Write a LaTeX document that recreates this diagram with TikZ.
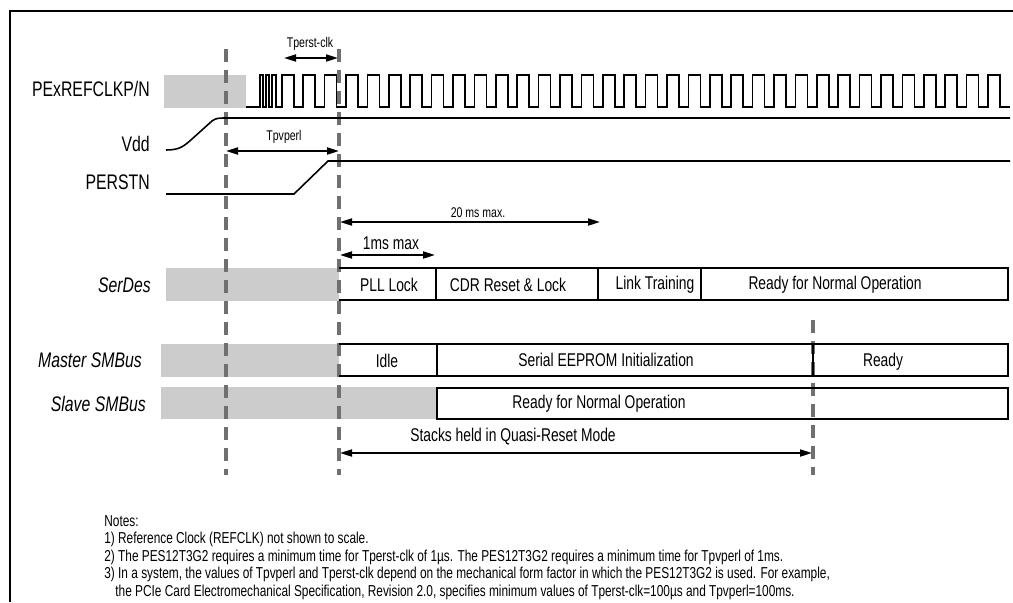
\documentclass[tikz,border=0pt]{standalone}
\usepackage{fontspec}
\setmainfont[FakeStretch=0.75]{Liberation Sans}
\usetikzlibrary{arrows.meta, calc}
\definecolor{shade}{RGB}{204,204,204}
\definecolor{marker}{RGB}{112,112,112}

\begin{document}
\begin{tikzpicture}[
    x=0.02cm, y=-0.02cm,
    wave/.style={line width=0.9pt, line join=miter},
    frame/.style={line width=1.2pt},
    marker/.style={draw=marker, line width=2.2pt, dash pattern=on 0.26cm off 0.16cm},
    hold/.style={fill=shade},
    stage/.style={line width=1.1pt},
    span/.style={{Triangle[length=2.4mm, width=1.4mm]}-{Triangle[length=2.4mm, width=1.4mm]}, line width=1.1pt},
    signame/.style={anchor=east, font=\fontsize{12}{14}\selectfont},
    lanename/.style={anchor=east, font=\fontsize{12}{14}\selectfont\itshape},
    statetext/.style={font=\fontsize{10.5}{12}\selectfont},
    timetext/.style={font=\fontsize{8}{10}\selectfont}
]
\useasboundingbox (0,0) rectangle (1013,602);

% Frame
\draw[frame] (1013,11) -- (10,11) -- (10,602);

% === Undefined states ===
\fill[hold] (164,75) rectangle (246,108);
\fill[hold] (166,268) rectangle (339,301);
\fill[hold] (161,344) rectangle (339,377);
\fill[hold] (161,387) rectangle (437,419);

% === Time markers ===
\coordinate (vddok) at (226,49);
\coordinate (rstrel) at (339,49);
\coordinate (eedone) at (813,320);
\draw[marker] (vddok) -- ++(0,426);
\draw[marker] (rstrel) -- ++(0,426);
\draw[marker] (eedone) -- ++(0,155);

% === Waveforms ===
% Reference clock
\draw[wave] (246,107) -- (260,107) -- (260,75) -- (263,75) -- (263,107) -- (266,107)
    -- (266,75) -- (269,75) -- (269,107) -- (272,107) -- (272,75) -- (276,75) -- (276,107)
    \foreach \k in {0,...,33}{ -- ({281.8+21.4*\k},107) -- ++(0,-32) -- ++(12,0) -- ++(0,32) }
    -- (1010,107);
% Vdd
\draw[wave] (166,150) .. controls (180,150) and (184,146) .. (192,139) -- (212,121)
    .. controls (216,118) and (219,118) .. (226,118) -- (1010,118);
% PERSTN
\draw[wave] (166,194) -- (294,194) -- (328,161) -- (1010,161);

\node[signame] (clkname) at (156,89) {PExREFCLKP/N};
\node[signame] (vddname) at (156,144) {Vdd};
\node[signame] (rstname) at (156,182) {PERSTN};

% === Timing spans ===
\coordinate (tpc-l) at (284,58);
\coordinate (tpc-r) at (338,58);
\draw[span] (tpc-l) -- (tpc-r);
\node[timetext] (tpclabel) at (310,44) {Tperst-clk};

\coordinate (tpv-l) at (226,151);
\coordinate (tpv-r) at (339,151);
\draw[span] (tpv-l) -- (tpv-r);
\node[timetext] (tpvlabel) at (284,137) {Tpvperl};

\coordinate (max20-l) at (340,222);
\coordinate (max20-r) at (600,222);
\draw[span] (max20-l) -- (max20-r);
\node[timetext] (max20label) at (478,213) {20 ms max.};

\coordinate (max1-l) at (340,255);
\coordinate (max1-r) at (435,255);
\draw[span] (max1-l) -- (max1-r);
\node[statetext] (max1label) at (391,243) {1ms max};

% === SerDes ===
\draw[stage] (339,268) -- (1008,268) -- (1008,300) -- (339,300);
\foreach \x in {436,598,701} \draw[stage] (\x,268) -- (\x,300);
\node[lanename] (serdesname) at (157,285) {SerDes};
\node[statetext] (pll) at (389,285) {PLL Lock};
\node[statetext] (cdr) at (508,285) {CDR Reset \& Lock};
\node[statetext] (link) at (655,285) {Link Training};
\node[statetext] (sdready) at (835,285) {Ready for Normal Operation};

% === Master SMBus ===
\draw[stage] (339,344) -- (1008,344) -- (1008,376) -- (339,376);
\foreach \x in {437,813} \draw[stage] (\x,344) -- (\x,376);
\node[lanename] (mastername) at (148,360) {Master SMBus};
\node[statetext] (idle) at (387,361) {Idle};
\node[statetext] (eeprom) at (606,360) {Serial EEPROM Initialization};
\node[statetext] (mready) at (883,362) {Ready};

% === Slave SMBus ===
\draw[stage] (437,388) rectangle (1008,419);
\node[lanename] (slavename) at (152,404) {Slave SMBus};
\node[statetext] (sready) at (599,404) {Ready for Normal Operation};

% Quasi-reset span
\coordinate (qr-l) at (340,453);
\coordinate (qr-r) at (812,453);
\draw[span] (qr-l) -- (qr-r);
\node[statetext] (qrlabel) at (513,437) {Stacks held in Quasi-Reset Mode};

% === Notes ===
\node[anchor=north west, inner sep=0pt, align=left, font=\fontsize{9}{10}\selectfont] (notes) at (104,515)
    {Notes:\\
     1) Reference Clock (REFCLK) not shown to scale.\\
     2) The PES12T3G2 requires a minimum time for Tperst-clk of 1µs. The PES12T3G2 requires a minimum time for Tpvperl of 1ms.\\
     3) In a system, the values of Tpvperl and Tperst-clk depend on the mechanical form factor in which the PES12T3G2 is used. For example,\\
     \hspace*{0.7em}the PCIe Card Electromechanical Specification, Revision 2.0, specifies minimum values of Tperst-clk=100µs and Tpvperl=100ms.};

\end{tikzpicture}
\end{document}
